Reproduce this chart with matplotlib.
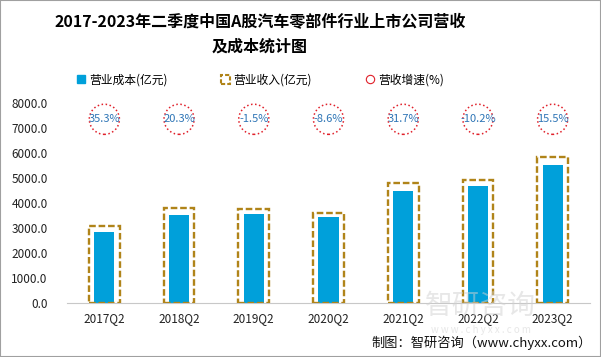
import numpy as np
import matplotlib.pyplot as plt
from matplotlib.lines import Line2D
from matplotlib.patches import Rectangle

plt.rcParams['font.family'] = ['Noto Sans CJK SC', 'DejaVu Sans']

quarters = ['2017Q2', '2018Q2', '2019Q2', '2020Q2', '2021Q2', '2022Q2', '2023Q2']
cost = [2864, 3532, 3572, 3464, 4504, 4692, 5532]      # 营业成本(亿元)
revenue = [3095, 3820, 3780, 3620, 4820, 4915, 5860]   # 营业收入(亿元)
growth = ['35.3%', '20.3%', '-1.5%', '-8.6%', '31.7%', '-10.2%', '15.5%']
circle_level = 7360

blue = '#00A0DA'
gold = '#B08419'
red = '#E0202A'

fig = plt.figure(figsize=(6.01, 3.57), dpi=100)
ax = fig.add_axes([67 / 601, 1 - 303.3 / 357, 523 / 601, 200 / 357])

x = np.arange(len(quarters))
ax.bar(x, cost, width=0.27, color=blue, zorder=2)
ax.bar(x, revenue, width=0.41, facecolor='none', edgecolor=gold,
       linewidth=1.7, linestyle=(0, (2.8, 1.2)), zorder=3)

ax.scatter(x, [circle_level] * len(x), s=470, facecolors='none',
           edgecolors=red, linewidths=1.1, linestyles=':', zorder=3)
for i, g in enumerate(growth):
    ax.text(x[i], circle_level, g, ha='center', va='center',
            fontsize=8, color='#2E75B6', zorder=4)

ax.set_xlim(-0.5, len(x) - 0.5)
ax.set_ylim(0, 8000)
ax.set_yticks(np.arange(0, 8001, 1000))
ax.set_yticklabels([f'{v:.1f}' for v in np.arange(0, 8001, 1000)])
ax.set_xticks(x)
ax.set_xticklabels(quarters)
ax.tick_params(axis='both', length=0, labelsize=8.5, colors='#222222')
ax.tick_params(axis='y', pad=14)
ax.tick_params(axis='x', pad=6)
for s in ['top', 'right', 'left']:
    ax.spines[s].set_visible(False)
ax.spines['bottom'].set_color('#C8C8C8')

# title
tx = 260 / 601
fig.text(tx, 1 - 22 / 357, '2017-2023年二季度中国A股汽车零部件行业上市公司营收',
         ha='center', va='center', fontsize=11.5, fontweight='bold')
fig.text(tx, 1 - 47 / 357, '及成本统计图',
         ha='center', va='center', fontsize=11.5, fontweight='bold')

# legend
handles = [
    Line2D([], [], marker='s', linestyle='none', markersize=6,
           markerfacecolor=blue, markeredgecolor=blue),
    Rectangle((0, 0), 1, 1, facecolor='none', edgecolor=gold,
              linewidth=1.5, linestyle=(0, (2, 1))),
    Line2D([], [], marker='o', linestyle='none', markersize=6,
           markerfacecolor='none', markeredgecolor=red, markeredgewidth=0.8),
]
labels = ['营业成本(亿元)', '营业收入(亿元)', '营收增速(%)']
fig.legend(handles, labels, loc='center', bbox_to_anchor=(tx, 1 - 80 / 357),
           ncol=3, frameon=False, fontsize=8.5, columnspacing=4.5,
           handlelength=0.8, handletextpad=0.3)

# watermark and source
fig.text(0.80, 1 - 306 / 357, '智研咨询', ha='center', va='center',
         fontsize=20, color='#D0D0D0', alpha=0.5, zorder=0)
fig.text(0.80, 1 - 330 / 357, 'w w w . c h y x x . c o m', ha='center', va='center',
         fontsize=7, color='#D0D0D0', alpha=0.5, zorder=0)
fig.text(592 / 601, 1 - 343 / 357, '制图：智研咨询（www.chyxx.com）',
         ha='right', va='center', fontsize=9.5, color='#111111')

fig.patches.append(Rectangle((0, 0), 1, 1, transform=fig.transFigure,
                             fill=False, edgecolor='#A0A0A0', linewidth=1.5))

fig.savefig('out.png', dpi=100)
